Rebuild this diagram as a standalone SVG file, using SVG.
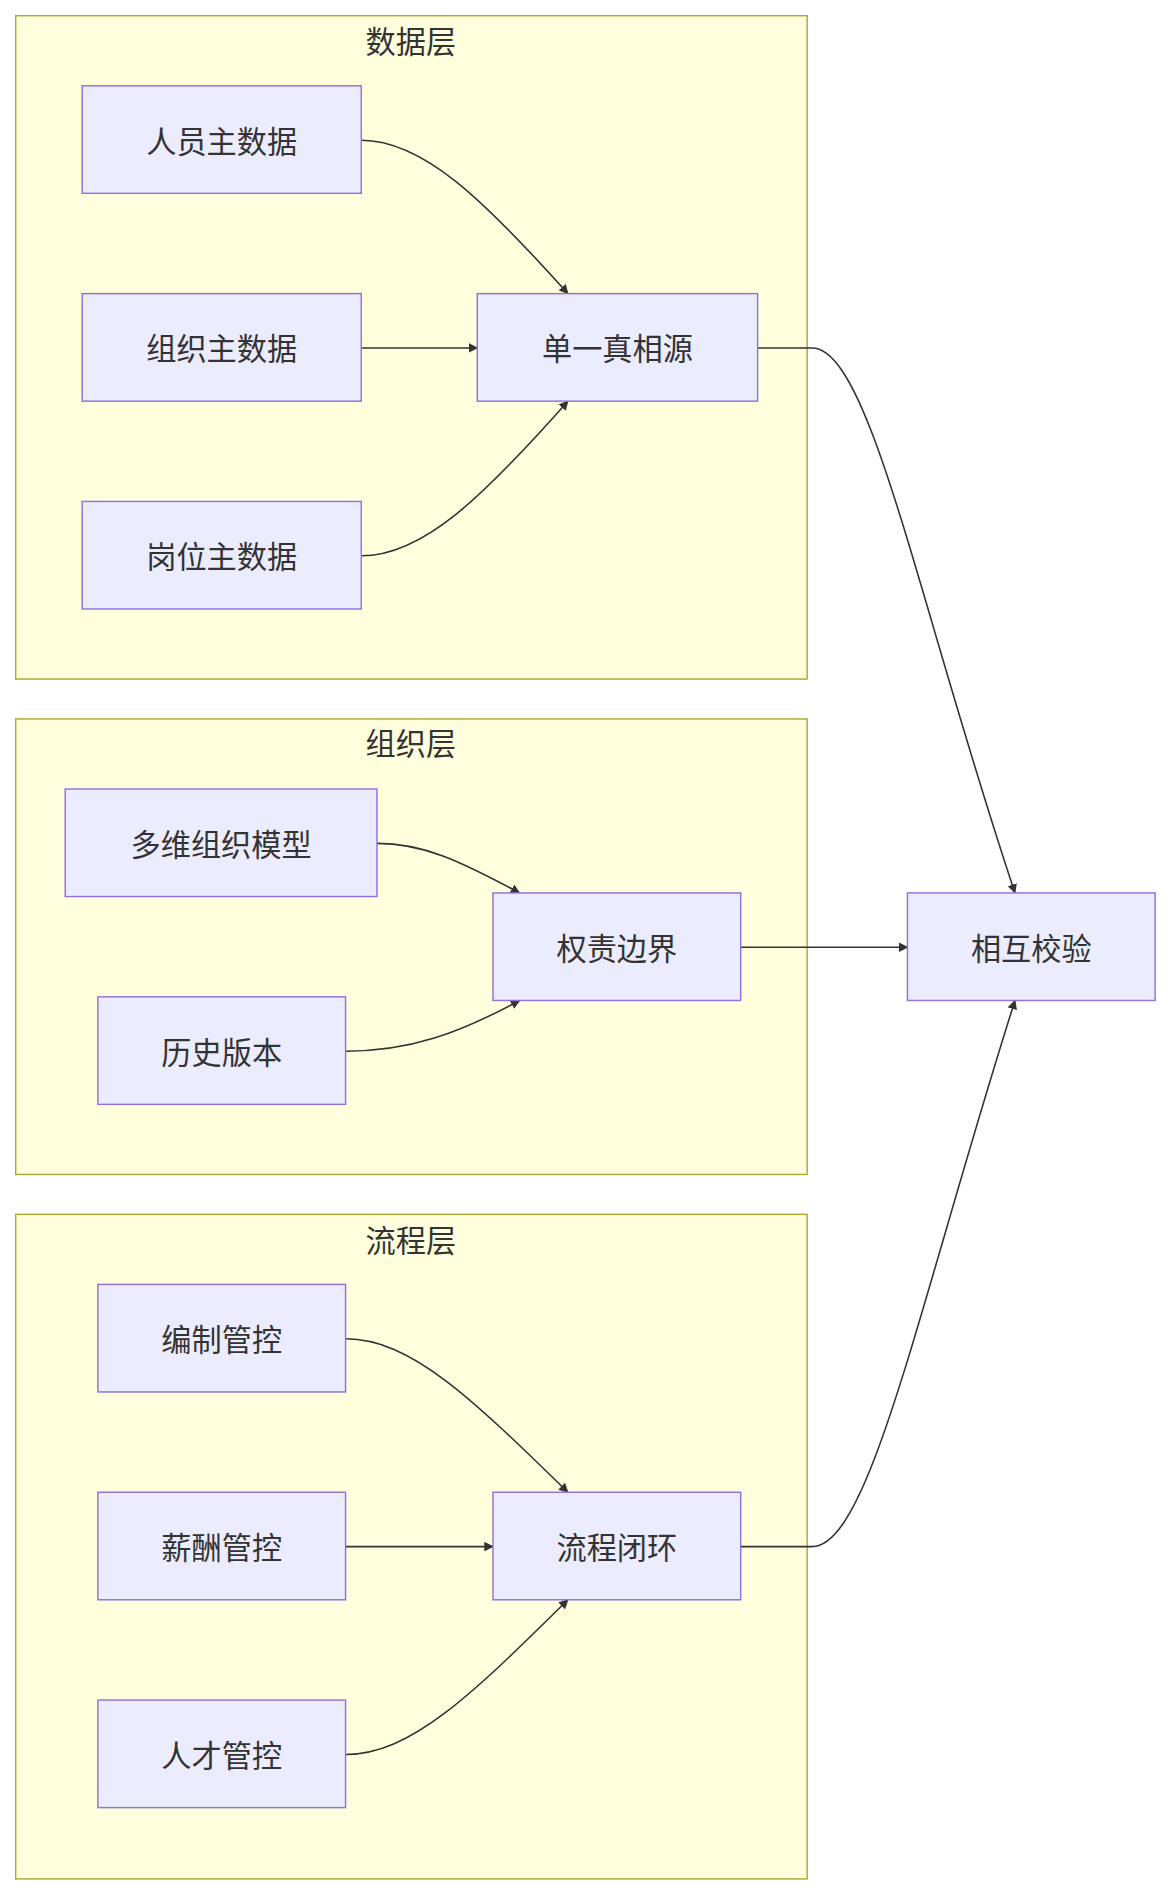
<svg xmlns="http://www.w3.org/2000/svg" width="1172" height="1896" viewBox="0 0 1172 1896">
<style>
.c{fill:#ffffde;stroke:#aaaa33;stroke-width:1.2}
.n{fill:#ececff;stroke:#9370db;stroke-width:1.2}
text{font-family:"Noto Sans CJK SC","Liberation Sans",sans-serif;font-size:25px;fill:#333;text-anchor:middle;dominant-baseline:central}
.e{fill:none;stroke:#333;stroke-width:1.3}
</style>
<defs><marker id="a" viewBox="0 0 10 10" refX="9" refY="5" markerWidth="8" markerHeight="8" orient="auto" markerUnits="userSpaceOnUse"><path d="M0,0L10,5L0,10z" fill="#333"/></marker></defs>
<rect width="1172" height="1896" fill="#fff"/>
<g transform="scale(1.2083)">
<g id="cluster-data"><rect class="c" x="13" y="13" width="655" height="549"/><text x="340" y="33">数据层</text></g>
<g id="cluster-org"><rect class="c" x="13" y="595" width="655" height="377"/><text x="340" y="614">组织层</text></g>
<g id="cluster-flow"><rect class="c" x="13" y="1005" width="655" height="550"/><text x="340" y="1025">流程层</text></g>
<g id="edges">
<path class="e" marker-end="url(#a)" d="M299,116 C350,116 400,165 470,243"/>
<path class="e" marker-end="url(#a)" d="M299,288 L395,288"/>
<path class="e" marker-end="url(#a)" d="M299,460 C350,460 400,411 470,332"/>
<path class="e" marker-end="url(#a)" d="M627,288 L672,288 C720,288 760,500 840,739"/>
<path class="e" marker-end="url(#a)" d="M312,698 C350,698 380,712 430,739"/>
<path class="e" marker-end="url(#a)" d="M286,870 C340,870 380,855 430,828"/>
<path class="e" marker-end="url(#a)" d="M613,784 L751,784"/>
<path class="e" marker-end="url(#a)" d="M286,1108 C340,1108 390,1157 470,1235"/>
<path class="e" marker-end="url(#a)" d="M286,1280 L408,1280"/>
<path class="e" marker-end="url(#a)" d="M286,1452 C340,1452 390,1403 470,1324"/>
<path class="e" marker-end="url(#a)" d="M613,1280 L672,1280 C720,1280 760,1080 840,828"/>
</g>
<g id="n1"><rect class="n" x="68" y="71" width="231" height="89"/><text x="183.5" y="115.5">人员主数据</text></g>
<g id="n2"><rect class="n" x="68" y="243" width="231" height="89"/><text x="183.5" y="287.5">组织主数据</text></g>
<g id="n3"><rect class="n" x="68" y="415" width="231" height="89"/><text x="183.5" y="459.5">岗位主数据</text></g>
<g id="n4"><rect class="n" x="395" y="243" width="232" height="89"/><text x="511" y="287.5">单一真相源</text></g>
<g id="n5"><rect class="n" x="54" y="653" width="258" height="89"/><text x="183" y="697.5">多维组织模型</text></g>
<g id="n6"><rect class="n" x="408" y="739" width="205" height="89"/><text x="510.5" y="783.5">权责边界</text></g>
<g id="n7"><rect class="n" x="81" y="825" width="205" height="89"/><text x="183.5" y="869.5">历史版本</text></g>
<g id="n8"><rect class="n" x="81" y="1063" width="205" height="89"/><text x="183.5" y="1107.5">编制管控</text></g>
<g id="n9"><rect class="n" x="81" y="1235" width="205" height="89"/><text x="183.5" y="1279.5">薪酬管控</text></g>
<g id="n10"><rect class="n" x="81" y="1407" width="205" height="89"/><text x="183.5" y="1451.5">人才管控</text></g>
<g id="n11"><rect class="n" x="408" y="1235" width="205" height="89"/><text x="510.5" y="1279.5">流程闭环</text></g>
<g id="n12"><rect class="n" x="751" y="739" width="205" height="89"/><text x="853.5" y="783.5">相互校验</text></g>
</g>
</svg>
